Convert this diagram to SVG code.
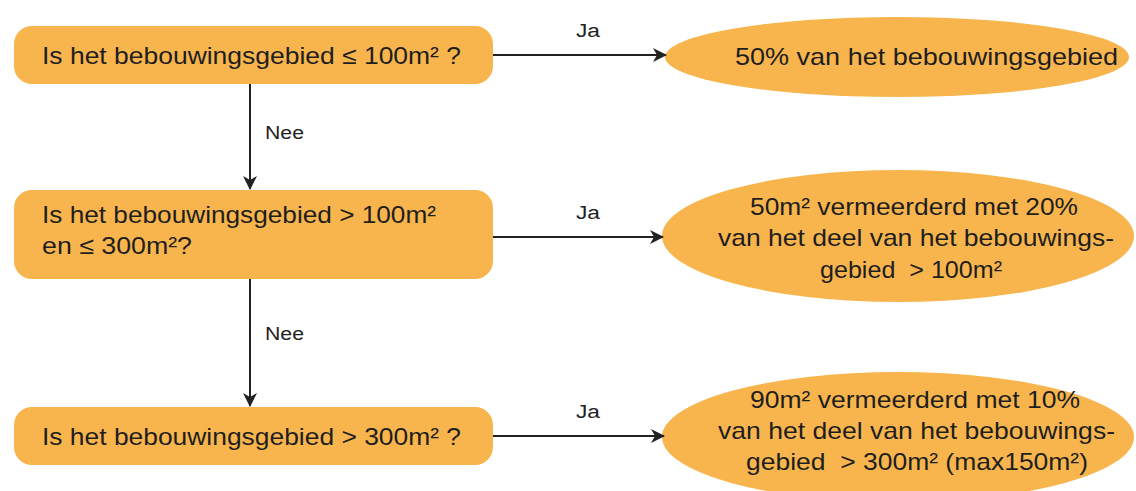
<svg xmlns="http://www.w3.org/2000/svg" width="1136" height="491" viewBox="0 0 1136 491">
  <style>
    .node { fill: #F8B54D; }
    .txt { font-family: "Liberation Sans", Arial, sans-serif; font-size: 24px; fill: #1e1e1e; white-space: pre; }
    .lbl { font-family: "Liberation Sans", Arial, sans-serif; font-size: 18px; fill: #222; }
    .edge { stroke: #222; stroke-width: 2; fill: none; marker-end: url(#arrow); }
  </style>
  <defs>
    <marker id="arrow" viewBox="0 0 14 14" refX="13" refY="7" markerWidth="14" markerHeight="14" markerUnits="userSpaceOnUse" orient="auto">
      <path d="M0,0 L14,7 L0,14 L4,7 Z" fill="#222"/>
    </marker>
  </defs>
  <rect width="1136" height="491" fill="#fff"/>

  <!-- questions -->
  <g id="q1">
    <rect class="node" x="14" y="26" width="479" height="58" rx="18"/>
    <text class="txt" x="42" y="64" textLength="419" lengthAdjust="spacingAndGlyphs">Is het bebouwingsgebied ≤ 100m² ?</text>
  </g>
  <g id="q2">
    <rect class="node" x="14" y="190" width="479" height="89" rx="18"/>
    <text class="txt" x="42" y="223" textLength="394" lengthAdjust="spacingAndGlyphs">Is het bebouwingsgebied &gt; 100m²</text>
    <text class="txt" x="42" y="254" textLength="150" lengthAdjust="spacingAndGlyphs">en ≤ 300m²?</text>
  </g>
  <g id="q3">
    <rect class="node" x="14" y="407" width="479" height="58" rx="18"/>
    <text class="txt" x="42" y="445" textLength="419" lengthAdjust="spacingAndGlyphs">Is het bebouwingsgebied &gt; 300m² ?</text>
  </g>

  <!-- outcomes -->
  <g id="r1">
    <ellipse class="node" cx="897" cy="57" rx="232" ry="40"/>
    <text class="txt" x="735" y="65" textLength="383" lengthAdjust="spacingAndGlyphs">50% van het bebouwingsgebied</text>
  </g>
  <g id="r2">
    <ellipse class="node" cx="898" cy="236" rx="236" ry="66"/>
    <text class="txt" x="750" y="215" textLength="328" lengthAdjust="spacingAndGlyphs">50m² vermeerderd met 20%</text>
    <text class="txt" x="718" y="246" textLength="396" lengthAdjust="spacingAndGlyphs">van het deel van het bebouwings-</text>
    <text class="txt" x="820" y="278" textLength="182" lengthAdjust="spacingAndGlyphs" xml:space="preserve">gebied  &gt; 100m²</text>
  </g>
  <g id="r3">
    <ellipse class="node" cx="898" cy="437" rx="236" ry="65"/>
    <text class="txt" x="750" y="408" textLength="330" lengthAdjust="spacingAndGlyphs">90m² vermeerderd met 10%</text>
    <text class="txt" x="718" y="439" textLength="397" lengthAdjust="spacingAndGlyphs">van het deel van het bebouwings-</text>
    <text class="txt" x="746" y="470" textLength="342" lengthAdjust="spacingAndGlyphs" xml:space="preserve">gebied  &gt; 300m² (max150m²)</text>
  </g>

  <!-- connectors -->
  <g id="edges">
    <line class="edge" x1="493" y1="55" x2="666" y2="55"/>
    <line class="edge" x1="493" y1="237" x2="663" y2="237"/>
    <line class="edge" x1="493" y1="436" x2="664" y2="436"/>
    <line class="edge" x1="250" y1="84" x2="250" y2="189"/>
    <line class="edge" x1="250" y1="279" x2="250" y2="406"/>
    <text class="lbl" x="576" y="37" textLength="24" lengthAdjust="spacingAndGlyphs">Ja</text>
    <text class="lbl" x="576" y="219" textLength="24" lengthAdjust="spacingAndGlyphs">Ja</text>
    <text class="lbl" x="576" y="418" textLength="24" lengthAdjust="spacingAndGlyphs">Ja</text>
    <text class="lbl" x="265" y="139" textLength="39" lengthAdjust="spacingAndGlyphs">Nee</text>
    <text class="lbl" x="265" y="340" textLength="39" lengthAdjust="spacingAndGlyphs">Nee</text>
  </g>
</svg>
